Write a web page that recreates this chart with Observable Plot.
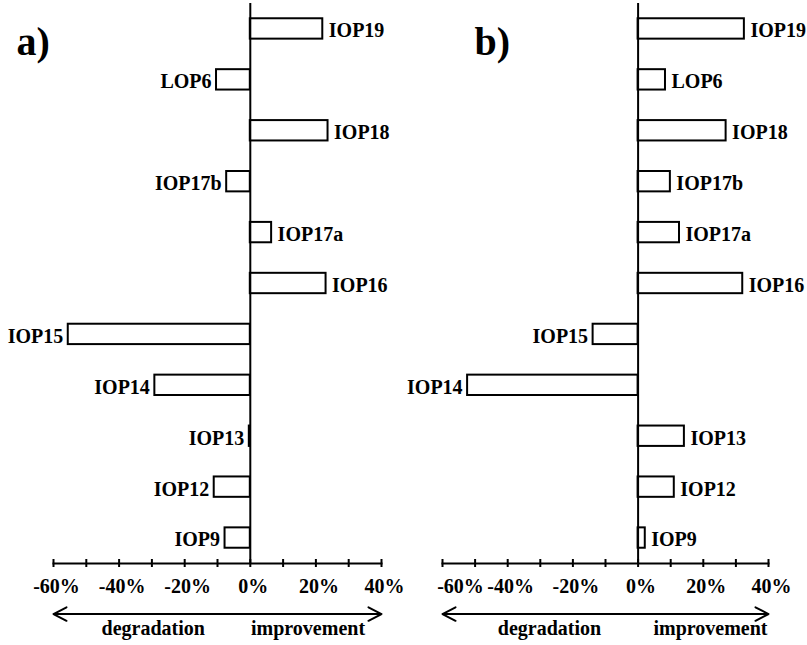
<!DOCTYPE html>
<html>
<head>
<meta charset="utf-8">
<script src="https://cdn.jsdelivr.net/npm/d3@7"></script>
<script src="https://cdn.jsdelivr.net/npm/@observablehq/plot@0.6"></script>
<style>
  body { margin: 0; background: #fff; }
  #chart { display: flex; width: 807px; height: 645px; }
  #chart svg { flex: none; }
</style>
</head>
<body>
<div id="chart"></div>
<script>
// Indicators, top to bottom
const indicators = ["IOP19", "LOP6", "IOP18", "IOP17b", "IOP17a", "IOP16", "IOP15", "IOP14", "IOP13", "IOP12", "IOP9"];
// Relative change (%) per indicator, panel a and panel b
const changeA = [22.1, -10.3, 23.7, -7.2, 6.5, 23.1, -55.5, -29.1, -0.3, -11.0, -7.7];
const changeB = [32.6, 8.4, 27.0, 9.9, 12.7, 32.1, -13.8, -52.3, 14.2, 11.1, 2.2];
// Axis
const xDomain = [-60, 40];
const axisTicks = [-60, -50, -40, -30, -20, -10, 0, 10, 20, 30, 40];
const axisLabels = [-60, -40, -20, 0, 20, 40];
const directions = ["degradation", "improvement"];
const panelLetters = ["a)", "b)"];

const serif = "'Liberation Serif', 'Times New Roman', Times, serif";

function panel(values, letter, cfg) {
  const rows = indicators.map((name, i) => ({name, value: values[i]}));
  const last = indicators[indicators.length - 1];
  const dirRows = directions.map((text, i) => ({text, x: cfg.dirX[i]}));
  const pct = d => d + "%";
  const label = {fontSize: 20, fontWeight: "bold"};
  return Plot.plot({
    width: cfg.width,
    height: 645,
    marginTop: 3,
    marginBottom: 82,
    marginLeft: cfg.marginLeft,
    marginRight: cfg.marginRight,
    style: {background: "transparent", overflow: "visible", fontFamily: serif, fontWeight: "bold", fontSize: "20px", color: "black"},
    x: {domain: xDomain},
    y: {domain: indicators, paddingInner: 0.6, paddingOuter: 0.3, round: false, axis: null},
    marks: [
      Plot.barX(rows, {x: "value", y: "name", fill: "white", stroke: "black", strokeWidth: 2}),
      Plot.ruleX([0], {stroke: "black", strokeWidth: 2}),
      // horizontal axis: baseline, ticks crossing it, percent labels below
      Plot.frame({anchor: "bottom", stroke: "black", strokeWidth: 2}),
      Plot.axisX(axisTicks, {tickSize: 8, dy: -4, strokeWidth: 2, tickFormat: () => "", label: null}),
      Plot.text(axisLabels.slice(0, 1), {x: d => d, text: pct, frameAnchor: "bottom", lineAnchor: "top", dy: 15, dx: cfg.edgeDx, ...label}),
      Plot.text(axisLabels.slice(1), {x: d => d, text: pct, frameAnchor: "bottom", lineAnchor: "top", dy: 15, dx: 3, ...label}),
      // indicator names at the bar ends
      Plot.text(rows.filter(d => d.value >= 0), {x: "value", y: "name", text: "name", textAnchor: "start", dx: 6, dy: 2, ...label}),
      Plot.text(rows.filter(d => d.value < 0), {x: "value", y: "name", text: "name", textAnchor: "end", dx: -5, dy: 2, ...label}),
      // direction arrows below the axis
      Plot.arrow(xDomain, {x1: 0, x2: d => d, y1: () => last, y2: () => last, dy: 76, stroke: "black", strokeWidth: 2, headLength: 11, headAngle: 55}),
      Plot.text(dirRows, {x: "x", y: () => last, text: "text", dy: 97, lineAnchor: "bottom", ...label}),
      Plot.text([letter], {frameAnchor: "top-left", text: d => d, dx: cfg.letterDx, dy: 51, lineAnchor: "bottom", textAnchor: "start", fontSize: 40, fontWeight: "bold"})
    ]
  });
}

const chart = document.getElementById("chart");
chart.append(
  panel(changeA, panelLetters[0], {width: 400, marginLeft: 53, marginRight: 19, letterDx: -37, edgeDx: 3, dirX: [-29.6, 17.6]}),
  panel(changeB, panelLetters[1], {width: 407, marginLeft: 42, marginRight: 39, letterDx: 32, edgeDx: 18, dirX: [-27.2, 22.2]})
);
</script>
</body>
</html>
